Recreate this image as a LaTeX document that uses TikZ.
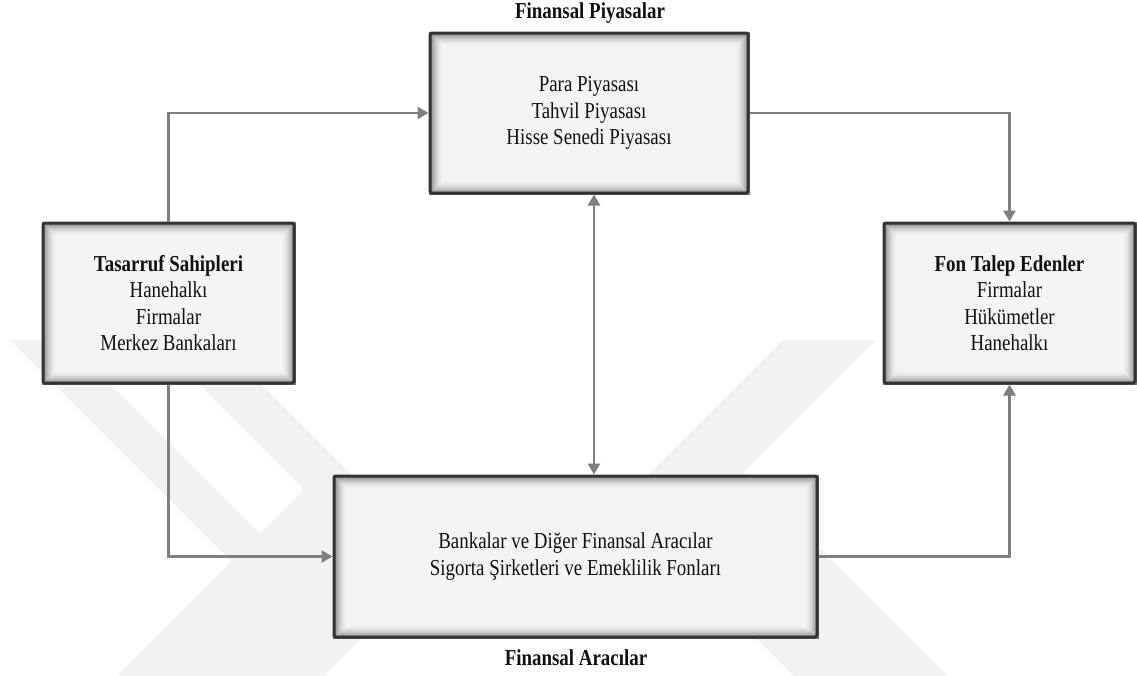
\documentclass[tikz,border=0pt]{standalone}
\usepackage{fontspec}
\setmainfont{Liberation Serif}[FakeStretch=0.83]
\usetikzlibrary{arrows.meta,backgrounds,calc}

\definecolor{edgecol}{HTML}{333333}
\definecolor{linkcol}{HTML}{7F7F7F}
\definecolor{markcol}{HTML}{F2F2F2}
\definecolor{txtcol}{HTML}{111111}

\tikzset{
  panel/.style={draw=edgecol, line width=3pt, rounded corners=1.5pt, align=center,
    inner sep=0pt, text=txtcol, font=\fontsize{22.8}{26.5}\selectfont},
  flow/.style={draw=linkcol, line width=2.6pt, -{Triangle[length=11pt,width=12pt]}},
  twoway/.style={draw=linkcol, line width=2.6pt,
    {Triangle[length=11pt,width=12pt]}-{Triangle[length=11pt,width=12pt]}},
  caption/.style={font=\bfseries\fontsize{22.8}{26.5}\selectfont, text=txtcol, anchor=base},
}

% soft inner shadow of a panel: nested rectangles from grey at the rim to the light fill
\newcommand{\innerglow}[1]{%
  \foreach \k in {0,...,15}{%
    \pgfmathsetmacro{\shade}{0.957-0.5*(1-\k/15)^2}%
    \definecolor{glowtone}{gray}{\shade}%
    \fill[glowtone] ([shift={(\k pt,-\k pt)}]#1.north west)
      rectangle ([shift={(-\k pt,\k pt)}]#1.south east);
  }}

\begin{document}
\begin{tikzpicture}[x=1pt,y=-1pt]
\useasboundingbox (0,0) rectangle (1137,675);

% panels
\node[panel, minimum width=318pt, minimum height=160pt] (fp) at (589,113)
  {Para Piyasası\\Tahvil Piyasası\\Hisse Senedi Piyasası};
\node[panel, minimum width=251pt, minimum height=160pt] (ts) at (168.5,303)
  {\textbf{Tasarruf Sahipleri}\\Hanehalkı\\Firmalar\\Merkez Bankaları};
\node[panel, minimum width=251pt, minimum height=160pt] (fte) at (1009.5,303)
  {\textbf{Fon Talep Edenler}\\Firmalar\\Hükümetler\\Hanehalkı};
\node[panel, minimum width=483pt, minimum height=161pt] (fa) at (575.5,556.5)
  {Bankalar ve Diğer Finansal Aracılar\\Sigorta Şirketleri ve Emeklilik Fonları};

% captions
\node[caption] (cfp) at (590,18) {Finansal Piyasalar};
\node[caption] (cfa) at (576,665) {Finansal Aracılar};

% connectors
\coordinate (mid) at (594,0);
\draw[flow] (ts.north) |- (fp.west);
\draw[flow] (fp.east) -| (fte.north);
\draw[twoway] (fp.south -| mid) -- (fa.north -| mid);
\draw[flow] (ts.south) |- (fa.west);
\draw[flow] (fa.east) -| (fte.south);

\begin{pgfonlayer}{background}
  \fill[white] (0,0) rectangle (1137,675);
  \begin{scope}
    \clip (0,0) rectangle (1137,675);
    % faint chevron marks behind the chart
    \fill[markcol] (10,340) -- (217,340) -- (438.5,561.5) -- (250,750)
      -- (43,750) -- (231.5,561.5) -- cycle;
    \fill[white] (67,340) -- (154,340) -- (303.5,489.5) -- (260,533) -- cycle;
    \fill[markcol] (783,340) -- (876,340) -- (744,472) -- (1000,728)
      -- (846,728) -- (620.5,502.5) -- cycle;
  \end{scope}
  \innerglow{fp}
  \innerglow{ts}
  \innerglow{fte}
  \innerglow{fa}
\end{pgfonlayer}
\end{tikzpicture}
\end{document}
